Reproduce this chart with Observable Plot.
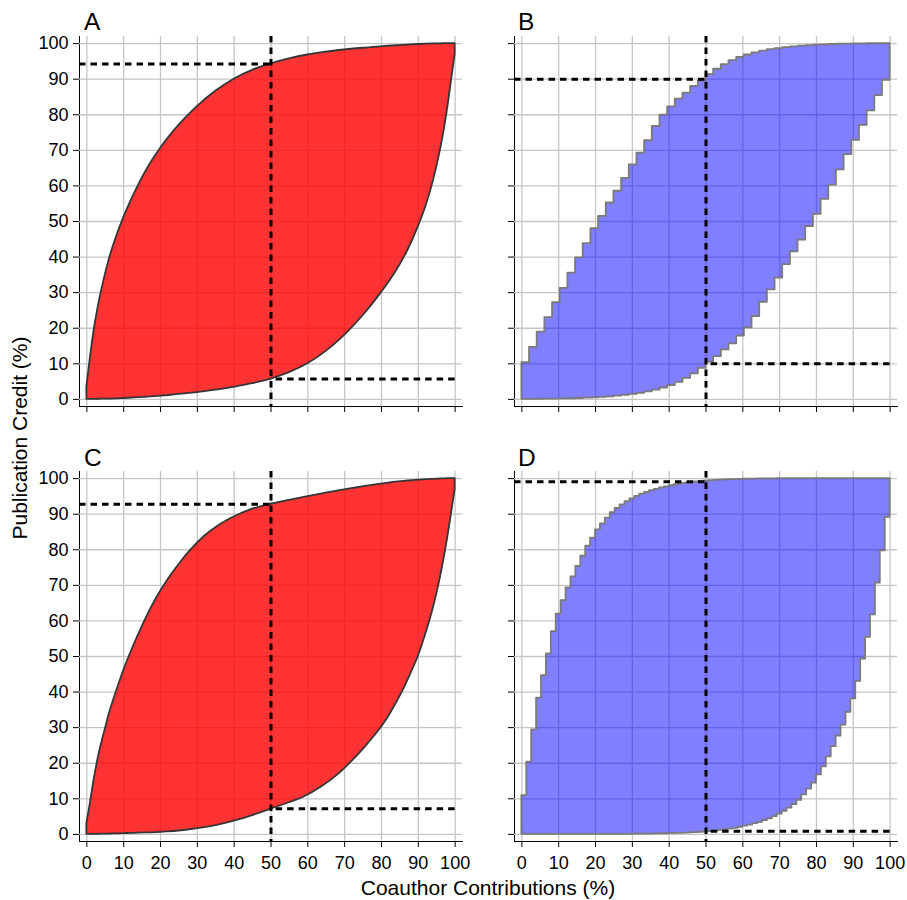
<!DOCTYPE html>
<html>
<head>
<meta charset="utf-8">
<script src="https://cdn.jsdelivr.net/npm/d3@7"></script>
<script src="https://cdn.jsdelivr.net/npm/@observablehq/plot@0.6"></script>
<style>
  body { margin: 0; background: #fff; }
  #root { position: relative; width: 907px; height: 900px; font-family: "Liberation Sans", Arial, sans-serif; color: #000; overflow: hidden; }
  .panel { position: absolute; }
  #overlay { position: absolute; left: 0; top: 0; pointer-events: none; }
</style>
</head>
<body>
<div id="root"></div>
<script>
// ---- axis ticks / labels ----
const pct = [0, 10, 20, 30, 40, 50, 60, 70, 80, 90, 100];
const pctLabels = ["0", "10", "20", "30", "40", "50", "60", "70", "80", "90", "100"];
const axisDomain = [-2, 102];
const splitShare = 50;

const panelNames = ["A", "B", "C", "D"];
const xTitle = "Coauthor Contributions (%)";
const yTitle = "Publication Credit (%)";

// credit at 50% of contributions (dashed guides)
const crossUpper = [94.3, 90, 92.8, 99.1];
const crossLower = [5.7, 10, 7.2, 0.9];

// ---- Panel A (smooth) ----
const xA = [0, 1, 2, 3, 4, 6, 8, 10, 13, 16, 20, 25, 30, 35, 40, 45, 50, 55, 60, 65, 70, 75, 80, 84, 87, 90, 92, 94, 96, 97, 98, 99, 100];
const upperA = [3.5, 12, 19.5, 25.5, 30.5, 39, 45.5, 51, 58, 64, 70.5, 77, 82.3, 86.6, 90, 92.5, 94.3, 95.7, 96.8, 97.6, 98.2, 98.7, 99.1, 99.4, 99.6, 99.75, 99.83, 99.9, 99.95, 99.97, 99.98, 99.99, 100];
const lowerA = [0, 0.01, 0.02, 0.03, 0.05, 0.1, 0.15, 0.25, 0.4, 0.6, 0.9, 1.4, 1.9, 2.6, 3.4, 4.4, 5.7, 7.5, 10.0, 13.5, 18.0, 23.5, 30.0, 36.0, 41.5, 48.5, 54, 61, 70, 75.5, 82, 89.5, 97];

// ---- Panel B (48 steps) ----
const upperB = [10.3, 14.6, 18.9, 23.0, 27.2, 31.2, 35.5, 39.8, 43.8, 48.0, 51.4, 55.2, 58.5, 62.1, 65.9, 69.2, 72.7, 76.7, 79.9, 82.2, 84.4, 86.1, 88.0, 89.5, 91.3, 92.8, 94.1, 95.2, 96.1, 96.8, 97.4, 97.9, 98.3, 98.6, 98.9, 99.1, 99.3, 99.45, 99.57, 99.67, 99.75, 99.82, 99.87, 99.91, 99.94, 99.96, 99.98, 99.99, 100];
const lowerB = [0.01, 0.02, 0.04, 0.06, 0.09, 0.13, 0.18, 0.25, 0.33, 0.43, 0.55, 0.7, 0.9, 1.1, 1.4, 1.7, 2.1, 2.6, 3.2, 3.9, 4.8, 5.9, 7.2, 8.7, 10.5, 12.0, 13.9, 15.6, 17.8, 20.1, 23.3, 27.3, 30.8, 34.1, 37.9, 41.5, 44.8, 48.6, 52.0, 56.2, 60.2, 64.5, 68.8, 72.8, 77.0, 81.1, 85.4, 89.7, 100];

// ---- Panel C (smooth) ----
const xC = [0, 1, 2, 3, 4, 5, 6, 8, 10, 12, 14, 16, 19, 22, 25, 28, 32, 36, 41, 45, 50, 55, 59, 64, 68, 72, 75, 78, 81, 84, 86, 88, 90, 92, 94, 95, 96, 97, 98, 99, 100];
const upperC = [3, 9, 15.5, 21, 25.5, 29.5, 33.5, 40, 46, 51.2, 56, 60.5, 66.5, 71.5, 75.8, 79.6, 83.8, 86.9, 89.7, 91.4, 92.8, 93.9, 94.7, 95.7, 96.5, 97.2, 97.7, 98.2, 98.6, 99.0, 99.2, 99.4, 99.55, 99.7, 99.8, 99.85, 99.9, 99.94, 99.97, 99.99, 100];
const lowerC = [0, 0.01, 0.02, 0.03, 0.05, 0.07, 0.1, 0.15, 0.2, 0.27, 0.35, 0.42, 0.5, 0.7, 0.95, 1.3, 1.9, 2.7, 4.0, 5.3, 7.1, 8.9, 10.5, 13.5, 16.6, 20.5, 23.8, 27.5, 31.6, 36.8, 40.7, 45.2, 50, 56.2, 63.3, 67.5, 72.2, 77.5, 83.5, 90, 97];

// ---- Panel D (75 steps) ----
const upperD = [10.9, 20.3, 29.4, 38.3, 44.6, 50.7, 57.0, 61.9, 65.7, 69.3, 72.4, 75.3, 78.2, 81.0, 83.3, 85.6, 87.3, 88.9, 90.4, 91.6, 92.6, 93.5, 94.3, 95.0, 95.6, 96.1, 96.6, 97.0, 97.4, 97.7, 98.0, 98.3, 98.5, 98.7, 98.9, 99.05, 99.2, 99.3, 99.4, 99.5, 99.57, 99.63, 99.69, 99.74, 99.78, 99.82, 99.85, 99.88, 99.9, 99.92, 99.94, 99.95, 99.96, 99.97, 99.975, 99.98, 99.985, 99.99, 99.99, 99.993, 99.995, 99.996, 99.997, 99.998, 99.998, 99.999, 99.999, 99.999, 100, 100, 100, 100, 100, 100, 100, 100];
const lowerD = [0, 0, 0, 0, 0, 0, 0, 0.001, 0.001, 0.001, 0.002, 0.002, 0.003, 0.004, 0.005, 0.007, 0.01, 0.01, 0.015, 0.02, 0.025, 0.03, 0.04, 0.05, 0.06, 0.08, 0.1, 0.12, 0.15, 0.18, 0.22, 0.26, 0.31, 0.37, 0.43, 0.5, 0.6, 0.7, 0.8, 0.95, 1.1, 1.3, 1.5, 1.7, 2.0, 2.3, 2.6, 3.0, 3.4, 3.9, 4.4, 5.0, 5.7, 6.5, 7.4, 8.4, 9.6, 11.1, 12.7, 14.4, 16.7, 19.0, 21.8, 24.7, 27.6, 30.7, 34.3, 38.1, 43.0, 49.3, 55.4, 61.7, 70.6, 79.7, 89.1, 100];

const redFill = "#ff0000", redStroke = "#353535";
const blueFill = "#0000ff", blueStroke = "#7a7a7a";

// tables
const smoothRows = (xs, up, lo) => xs.map((x, i) => ({x, hi: up[i], lo: lo[i]}));
const stepRows = (up, lo) => up.map((u, k) => ({x: k * 100 / (up.length - 1), hi: u, lo: lo[k]}));

const panels = [
  {rows: smoothRows(xA, upperA, lowerA), curve: "monotone-x", fill: redFill, fillOpacity: 0.8, stroke: redStroke},
  {rows: stepRows(upperB, lowerB), curve: "step-after", fill: blueFill, fillOpacity: 0.5, stroke: blueStroke},
  {rows: smoothRows(xC, upperC, lowerC), curve: "monotone-x", fill: redFill, fillOpacity: 0.8, stroke: redStroke},
  {rows: stepRows(upperD, lowerD), curve: "step-after", fill: blueFill, fillOpacity: 0.5, stroke: blueStroke}
];

const fmt = d => pctLabels[pct.indexOf(d)];
const blank = () => "";
const dash = {stroke: "#000", strokeWidth: 3, strokeDasharray: "6.5,5"};

const root = document.getElementById("root");
panels.forEach((p, i) => {
  const col = i % 2, row = Math.floor(i / 2);
  const bottomRow = row === 1, leftCol = col === 0;
  const chart = Plot.plot({
    width: 470,
    height: bottomRow ? 440 : 420,
    marginTop: 36,
    marginRight: 8,
    marginBottom: bottomRow ? 34 : 14,
    marginLeft: 79,
    style: {fontFamily: "'Liberation Sans', Arial, sans-serif", fontSize: "18px", color: "#000", background: "transparent", overflow: "visible"},
    x: {domain: axisDomain, ticks: pct, tickSize: 6, tickPadding: 9, tickFormat: bottomRow ? fmt : blank, line: true, label: null},
    y: {domain: axisDomain, ticks: pct, tickSize: 6, tickPadding: 5, tickFormat: leftCol ? fmt : blank, line: true, label: null},
    marks: [
      Plot.ruleX(pct, {stroke: "#c6c6c6", strokeWidth: 1.3}),
      Plot.ruleY(pct, {stroke: "#c6c6c6", strokeWidth: 1.3}),
      Plot.areaY(p.rows, {x: "x", y1: "lo", y2: "hi", curve: p.curve, fill: p.fill, fillOpacity: p.fillOpacity, stroke: p.stroke, strokeWidth: 1.8}),
      Plot.ruleX([splitShare], dash),
      Plot.ruleY([crossUpper[i]], {x1: axisDomain[0], x2: splitShare, ...dash}),
      Plot.ruleY([crossLower[i]], {x1: pct[pct.length - 1], x2: splitShare, ...dash})
    ]
  });
  chart.classList.add("panel");
  chart.style.left = (col * 435) + "px";
  chart.style.top = (row * 435) + "px";
  chart.style.position = "absolute";
  root.appendChild(chart);
});

// overlay text: panel letters and axis titles
const ns = "http://www.w3.org/2000/svg";
const ov = document.createElementNS(ns, "svg");
ov.setAttribute("id", "overlay");
ov.setAttribute("width", 907);
ov.setAttribute("height", 900);
ov.setAttribute("font-family", "'Liberation Sans', Arial, sans-serif");
function addText(str, attrs) {
  const t = document.createElementNS(ns, "text");
  for (const k in attrs) t.setAttribute(k, attrs[k]);
  t.textContent = str;
  ov.appendChild(t);
}
panelNames.forEach((name, i) => {
  const col = i % 2, row = Math.floor(i / 2);
  addText(name, {x: 84 + col * 434, y: 29.5 + row * 436, "font-size": 24.5, fill: "#000"});
});
addText(xTitle, {x: 488, y: 895, "font-size": 21, "text-anchor": "middle", fill: "#000"});
addText(yTitle, {transform: "translate(27,438) rotate(-90)", "font-size": 21, "text-anchor": "middle", fill: "#000"});
root.appendChild(ov);
</script>
</body>
</html>
